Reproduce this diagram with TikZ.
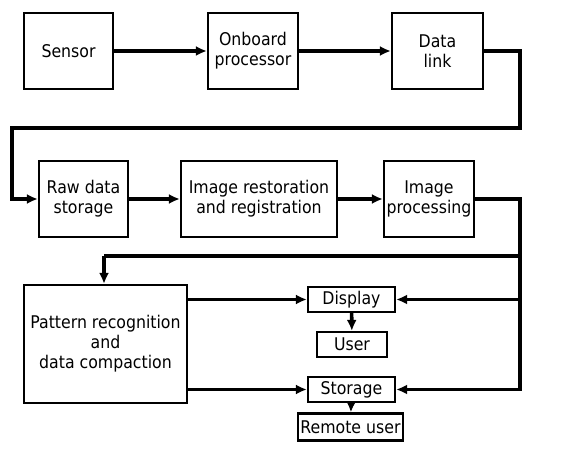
\documentclass[tikz,border=0pt]{standalone}
\usepackage{fontspec}
\setmainfont{DejaVu Sans Condensed}
\usetikzlibrary{arrows.meta}
\begin{document}
\begin{tikzpicture}[x=1pt,y=-1pt,
  box/.style={draw, line width=2.2pt, rectangle, inner sep=0pt, align=center,
    font=\fontsize{17.5}{20}\selectfont},
  conn/.style={line width=3.6pt, -{Latex[length=11pt,width=10pt]}},
  wire/.style={line width=3.6pt}]
\useasboundingbox (0,0) rectangle (565,449);
\node[box, minimum width=89pt, minimum height=76pt] (sensor) at (68.5,51) {Sensor};
\node[box, minimum width=90pt, minimum height=76pt] (onboard) at (253,51) {Onboard\\processor};
\node[box, minimum width=91pt, minimum height=76pt] (link) at (437.5,51) {Data\\link};
\node[box, minimum width=89pt, minimum height=76pt] (raw) at (83.5,199) {Raw data\\storage};
\node[box, minimum width=156pt, minimum height=76pt] (restor) at (259,199) {Image restoration\\and registration};
\node[box, minimum width=90pt, minimum height=76pt] (improc) at (429,199) {Image\\processing};
\node[box, minimum width=163pt, minimum height=118pt] (pattern) at (105.5,344) {Pattern recognition\\and\\data compaction};
\node[box, minimum width=87pt, minimum height=25pt] (display) at (351.5,299.5) {Display};
\node[box, minimum width=70pt, minimum height=25pt] (user) at (352,344.5) {User};
\node[box, minimum width=87pt, minimum height=25pt] (storage) at (351.5,389.5) {Storage};
\node[box, minimum width=105pt, minimum height=27pt] (remote) at (350.5,427) {Remote user};
\coordinate (r1) at (520,128);
\coordinate (l1) at (12,128);
\coordinate (r2) at (520,256);
\coordinate (l2) at (104,256);
\draw[conn] (sensor) -- (onboard);
\draw[conn] (onboard) -- (link);
\draw[conn] (link.east) -| (r1) -- (l1) |- (raw.west);
\draw[conn] (raw) -- (restor);
\draw[conn] (restor) -- (improc);
\draw[wire] (improc.east) -| (r2) -- (l2);
\draw[conn] (l2) -- (l2 |- pattern.north);
\draw[conn] (r2) |- (storage.east);
\draw[conn] (r2 |- display.east) -- (display.east);
\draw[conn] (pattern.east |- display.west) -- (display.west);
\draw[conn] (pattern.east |- storage.west) -- (storage.west);
\draw[conn] (display) -- (user);
\draw[conn] (storage) -- (remote);
\end{tikzpicture}
\end{document}
